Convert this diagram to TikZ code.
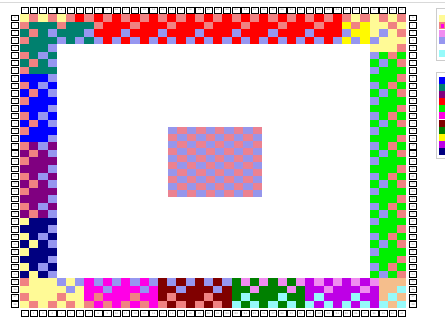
\documentclass[tikz,border=0pt]{standalone}
\usepackage{tikz}

\definecolor{lav}{RGB}{150,150,240}
\definecolor{pnk}{RGB}{240,130,130}
\definecolor{pale}{RGB}{255,250,150}
\definecolor{tealc}{RGB}{0,128,110}
\definecolor{purp}{RGB}{128,0,128}
\definecolor{navyc}{RGB}{0,0,128}
\definecolor{lime}{RGB}{0,240,0}
\definecolor{mag}{RGB}{255,0,230}
\definecolor{maroon}{RGB}{128,0,0}
\definecolor{dgreen}{RGB}{0,128,0}
\definecolor{viol}{RGB}{190,0,230}
\definecolor{orch}{RGB}{240,140,240}
\definecolor{lcyan}{RGB}{150,250,250}
\definecolor{peach}{RGB}{245,190,140}
\definecolor{yel}{RGB}{255,250,0}
\definecolor{cpink}{RGB}{235,130,145}
\definecolor{clav}{RGB}{150,150,235}

\tikzset{
  cell/.style={minimum width=9.2pt, minimum height=7.55pt, inner sep=0pt, outer sep=0pt},
  core/.style={minimum width=9.4pt, minimum height=7pt, inner sep=0pt, outer sep=0pt},
  pad/.style={draw=black, line width=0.8pt, fill=white, inner sep=0pt, text=black!60,
    font=\fontsize{2.5}{3}\selectfont},
  key/.style={minimum width=12pt, minimum height=7pt, inner sep=0pt, outer sep=0pt}
}

\newcommand{\ringblock}[7]{%
  \foreach \c in {#1,...,#2}{
    \foreach \r in {#3,...,#4}{
      \pgfmathtruncatemacro\cpar{mod(\c+\r,2)}
      \pgfmathtruncatemacro\csp{mod(\c*3+\r*5,4)}
      \pgfmathtruncatemacro\cdep{min(\c,41-\c,\r,38-\r)}
      \def\cellcol{#5}
      \ifnum\cdep=3 \ifnum\cpar=1 \def\cellcol{#6}\fi\fi
      \ifnum\cdep=0 \ifnum\cpar=1 \def\cellcol{#7}\fi\fi
      \ifnum\cdep=1 \ifnum\csp=1 \def\cellcol{#7}\fi\fi
      \ifnum\cdep=2 \ifnum\csp=3 \def\cellcol{#6}\fi\fi
      \node[cell, fill=\cellcol] (c-\c-\r) at ({20+(\c+0.5)*9.2},{14+(\r+0.5)*7.55}) {};
    }}}

\begin{document}
\begin{tikzpicture}[x=1pt, y=-1pt]
        \useasboundingbox (0,0) rectangle (445,320);
        \clip (0,0) rectangle (445,320);
        \fill[white] (0,0) rectangle (445,320);
        \draw[black!15] (0,2) -- (445,2);

        \ringblock{0}{5}{0}{0}{pale}{lav}{pnk}
        \ringblock{0}{7}{1}{3}{tealc}{lav}{pnk}
        \ringblock{6}{7}{0}{0}{red}{lav}{pnk}
        \ringblock{8}{34}{0}{3}{red}{lav}{pnk}
        \ringblock{35}{41}{0}{0}{pale}{lav}{pnk}
        \ringblock{35}{37}{1}{3}{yel}{lav}{pnk}
        \ringblock{38}{41}{1}{4}{pale}{lav}{pnk}
        \ringblock{38}{41}{5}{34}{lime}{lav}{pnk}

        \ringblock{0}{3}{4}{7}{tealc}{lav}{pnk}
        \ringblock{0}{3}{8}{16}{blue}{lav}{pnk}
        \ringblock{0}{3}{17}{26}{purp}{lav}{pnk}
        \ringblock{0}{3}{27}{34}{navyc}{lav}{pale}

        \ringblock{0}{6}{35}{38}{pale}{lav}{pnk}
        \ringblock{7}{14}{35}{38}{mag}{lav}{pnk}
        \ringblock{15}{22}{35}{38}{maroon}{lav}{pnk}
        \ringblock{23}{30}{35}{38}{dgreen}{orch}{lcyan}
        \ringblock{31}{38}{35}{38}{viol}{orch}{lcyan}
        \ringblock{39}{41}{35}{38}{peach}{orch}{lcyan}

        \foreach \i in {0,...,9}{
          \foreach \j in {0,...,9}{
            \pgfmathtruncatemacro\cpar{mod(\i+\j,2)}
            \ifnum\cpar=0 \def\cellcol{clav}\else\def\cellcol{cpink}\fi
            \node[core, fill=\cellcol] (m-\i-\j) at ({168+(\i+0.5)*9.4},{127+(\j+0.5)*7}) {};
          }}

        \foreach \c in {0,...,41}{
          \node[pad, minimum width=7.4pt, minimum height=6pt] (top-\c) at ({20+(\c+0.5)*9.2},10) {\c};
          \node[pad, minimum width=7.4pt, minimum height=6pt] (bot-\c) at ({20+(\c+0.5)*9.2},313.5) {\c};
        }
        \foreach \r in {0,...,38}{
          \node[pad, minimum width=7pt, minimum height=5.6pt] (left-\r) at (15,{14+(\r+0.5)*7.55}) {\r};
          \node[pad, minimum width=7pt, minimum height=5.6pt] (right-\r) at (413,{14+(\r+0.5)*7.55}) {\r};
        }

        \draw[black!20] (436,8) rectangle (460,60);
        \node[key, fill=pale, anchor=north west] (k1) at (439,15) {};
        \node[key, fill=pnk, anchor=north west] (k2) at (439,22) {};
        \node[key, fill=mag, minimum width=3pt, minimum height=4pt, anchor=north west] (k2b) at (441,24) {};
        \node[key, fill=orch, anchor=north west] (k3) at (439,30) {};
        \node[key, fill=lav, anchor=north west] (k4) at (439,37) {};
        \node[key, fill=lcyan, anchor=north west] (k5) at (439,50) {};

        \draw[black!20] (436,72) rectangle (460,158);
        \foreach \col [count=\k from 0] in {blue,tealc,purp,red,lime,mag,maroon,dgreen,yel,viol,navyc}{
          \node[key, fill=\col, anchor=north west] (leg-\k) at (439,{77+\k*7.1}) {};
        }
    \end{tikzpicture}
\end{document}
